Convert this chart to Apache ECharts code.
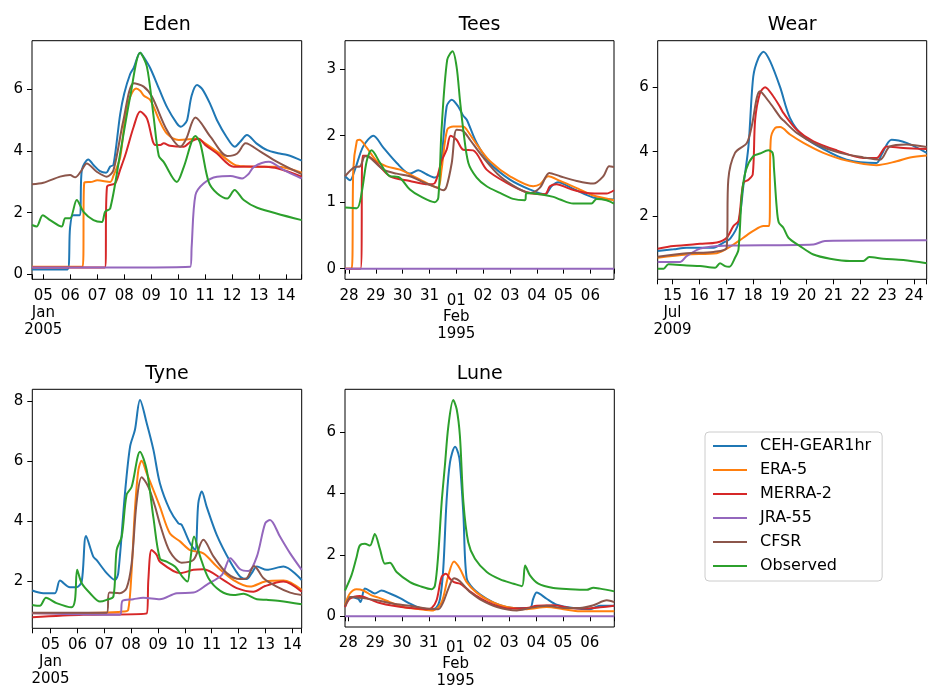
<!DOCTYPE html>
<html lang="en">
<head>
    <meta charset="UTF-8">
    <title>Reanalysis flood events</title>
    <style>
        body { margin: 0; background: #fff; }
        #chart { width: 928px; height: 690px; }
    </style>
</head>
<body>
    <div id="chart"></div>
    <script src="https://cdn.jsdelivr.net/npm/echarts@6.0.0/dist/echarts.min.js"></script>
    <script>
        const names = ['CEH-GEAR1hr', 'ERA-5', 'MERRA-2', 'JRA-55', 'CFSR', 'Observed']
        const colors = ['#1f77b4', '#ff7f0e', '#d62728', '#9467bd', '#8c564b', '#2ca02c']

        // tick days and labels (x = day of month, Feb counted on from Jan 31)
        const janTicks = [5, 6, 7, 8, 9, 10, 11, 12, 13, 14]
        const janLabels = ['05', '06', '07', '08', '09', '10', '11', '12', '13', '14']
        const janSub = [5, '\nJan\n2005']
        const febTicks = [28, 29, 30, 31, 32, 33, 34, 35, 36, 37]
        const febLabels = ['28', '29', '30', '31', '{m|01}\nFeb\n1995', '02', '03', '04', '05', '06']
        const julTicks = [15, 16, 17, 18, 19, 20, 21, 22, 23, 24]
        const julLabels = ['15', '16', '17', '18', '19', '20', '21', '22', '23', '24']
        const julSub = [15, '\nJul\n2009']

        // Eden, Jan 2005
        const edenCEH = [[4.58,0.16],[5.9,0.16],[5.99,1.5],[6.1,1.92],[6.34,1.92],[6.43,3.4],[6.67,3.73],[6.86,3.55],[7.1,3.35],[7.33,3.3],[7.48,3.5],[7.6,3.55],[7.85,5.2],[8.0,5.87],[8.22,6.5],[8.35,6.7],[8.59,7.19],[8.72,7.05],[8.97,6.68],[9.3,6.0],[9.6,5.4],[9.95,4.9],[10.1,4.79],[10.21,4.85],[10.33,5.0],[10.5,5.8],[10.7,6.14],[10.9,6.0],[11.2,5.5],[11.44,5.0],[11.8,4.45],[12.1,4.14],[12.3,4.3],[12.55,4.52],[12.9,4.25],[13.3,4.03],[13.7,3.93],[14.05,3.87],[14.58,3.69]]
        const edenERA5 = [[4.58,0.25],[6.46,0.25],[6.52,2.98],[6.8,3.0],[7.0,3.05],[7.48,3.0],[7.6,3.2],[7.85,3.8],[8.1,5.44],[8.44,6.03],[8.6,5.95],[8.72,5.8],[8.97,5.65],[9.3,5.0],[9.58,4.57],[10.02,4.36],[10.4,4.38],[10.7,4.41],[11.0,4.25],[11.44,3.98],[12.1,3.55],[12.5,3.5],[13.05,3.49],[13.67,3.49],[14.58,3.3]]
        const edenMERRA2 = [[4.58,0.22],[7.28,0.22],[7.36,2.84],[7.66,2.95],[7.85,3.4],[8.04,3.87],[8.35,4.79],[8.59,5.28],[8.84,5.06],[9.15,4.2],[9.34,4.2],[9.46,4.25],[9.7,4.17],[10.21,4.14],[10.45,4.3],[10.76,4.4],[11.0,4.2],[11.44,3.92],[12.06,3.49],[12.6,3.5],[13.2,3.49],[13.67,3.44],[14.58,3.17]]
        const edenJRA55 = [[4.58,0.22],[10.45,0.25],[10.5,0.9],[10.64,2.57],[10.94,2.95],[11.44,3.17],[11.94,3.19],[12.37,3.11],[12.6,3.25],[12.81,3.49],[13.36,3.65],[13.92,3.38],[14.58,3.11]]
        const edenCFSR = [[4.58,2.92],[5.0,2.97],[5.62,3.17],[5.99,3.22],[6.18,3.15],[6.4,3.35],[6.61,3.6],[6.98,3.33],[7.35,3.17],[7.6,3.38],[7.97,5.0],[8.35,6.2],[8.72,6.09],[9.03,5.76],[9.58,4.68],[10.08,4.14],[10.3,4.4],[10.64,5.09],[11.2,4.46],[11.82,3.84],[12.19,3.92],[12.5,4.25],[13.05,3.98],[13.67,3.65],[14.58,3.25]]
        const edenObs = [[4.58,1.6],[4.75,1.55],[4.98,1.92],[5.25,1.76],[5.68,1.55],[5.81,1.82],[5.99,1.82],[6.24,2.41],[6.49,2.03],[6.86,1.76],[7.17,1.7],[7.29,2.03],[7.48,2.14],[7.85,3.92],[8.22,5.76],[8.59,7.19],[8.84,6.74],[9.09,5.11],[9.28,3.85],[9.46,3.65],[9.95,3.0],[10.21,3.49],[10.64,4.49],[10.82,4.25],[11.13,3.0],[11.44,2.63],[11.82,2.46],[12.09,2.74],[12.43,2.41],[12.93,2.16],[14.58,1.76]]

        // Tees, Jan-Feb 1995
        const teesCEH = [[27.85,1.39],[28.04,1.33],[28.22,1.49],[28.53,1.84],[28.91,2.0],[29.28,1.82],[29.78,1.59],[30.27,1.43],[30.58,1.48],[30.89,1.42],[31.2,1.37],[31.39,1.44],[31.64,2.44],[31.83,2.54],[32.07,2.44],[32.26,2.3],[32.39,2.24],[32.76,1.89],[33.25,1.59],[34.0,1.34],[34.75,1.19],[35.31,1.12],[35.55,1.24],[35.8,1.3],[36.36,1.2],[37.11,1.07],[37.88,1.04]]
        const teesERA5 = [[27.85,0],[28.1,0],[28.16,1.5],[28.29,1.92],[28.39,1.94],[28.66,1.82],[29.03,1.62],[29.4,1.54],[29.9,1.49],[30.65,1.34],[31.14,1.24],[31.33,1.22],[31.45,1.49],[31.66,2.09],[31.89,2.14],[32.26,2.14],[32.39,2.09],[32.76,1.87],[33.25,1.62],[34.0,1.39],[34.87,1.24],[35.12,1.27],[35.43,1.39],[35.87,1.32],[36.61,1.19],[37.11,1.1],[37.88,1.03]]
        const teesMERRA2 = [[27.85,0],[28.43,0],[28.51,1.7],[28.66,1.7],[29.03,1.59],[29.53,1.39],[30.27,1.32],[30.96,1.27],[31.2,1.29],[31.45,1.62],[31.64,1.79],[31.79,2.0],[32.01,1.94],[32.26,1.79],[32.63,1.78],[33.13,1.49],[33.88,1.29],[34.62,1.15],[35.31,1.12],[35.49,1.24],[35.74,1.27],[36.24,1.2],[36.86,1.14],[37.6,1.13],[37.88,1.18]]
        const teesJRA55 = [[27.85,0],[37.88,0]]
        const teesCFSR = [[27.85,1.39],[28.22,1.53],[28.41,1.54],[28.6,1.69],[28.78,1.67],[29.28,1.49],[29.78,1.43],[30.27,1.39],[30.77,1.3],[31.27,1.22],[31.52,1.18],[31.64,1.24],[31.83,1.59],[32.01,2.09],[32.26,2.07],[32.51,1.94],[33.01,1.67],[33.63,1.39],[34.25,1.22],[34.75,1.14],[35.12,1.22],[35.47,1.44],[35.87,1.39],[36.49,1.32],[37.11,1.28],[37.48,1.39],[37.7,1.54],[37.88,1.53]]
        const teesObs = [[27.85,0.92],[28.29,0.91],[28.47,1.14],[28.66,1.62],[28.84,1.78],[29.16,1.59],[29.53,1.39],[29.84,1.38],[30.27,1.19],[30.65,1.09],[31.2,1.0],[31.33,1.07],[31.45,2.09],[31.66,3.14],[31.86,3.27],[32.01,3.04],[32.14,2.52],[32.26,2.09],[32.45,1.59],[32.76,1.37],[33.13,1.24],[33.63,1.14],[34.12,1.05],[34.56,1.03],[34.62,1.14],[35.12,1.12],[35.62,1.08],[35.87,1.04],[36.36,0.98],[37.04,0.98],[37.23,1.05],[37.6,1.03],[37.88,0.98]]

        // Wear, Jul 2009
        const wearCEH = [[14.45,0.92],[15.04,0.97],[15.53,1.02],[16.53,1.02],[16.9,1.18],[17.15,1.3],[17.46,1.79],[17.64,2.93],[17.83,4.16],[18.01,6.33],[18.2,6.9],[18.39,7.1],[18.64,6.8],[19.01,6.0],[19.38,5.04],[19.88,4.47],[20.62,4.08],[21.49,3.75],[22.6,3.65],[22.79,3.91],[23.16,4.37],[23.72,4.27],[24.47,3.96]]
        const wearERA5 = [[14.45,0.71],[15.53,0.81],[16.65,0.85],[17.15,1.05],[17.64,1.33],[18.01,1.54],[18.39,1.69],[18.6,1.69],[18.66,4.37],[18.82,4.73],[19.01,4.76],[19.38,4.53],[19.88,4.27],[20.62,3.96],[21.49,3.72],[22.6,3.58],[23.35,3.7],[23.85,3.82],[24.47,3.88]]
        const wearMERRA2 = [[14.45,0.99],[15.04,1.07],[16.03,1.14],[16.65,1.18],[17.02,1.33],[17.27,1.69],[17.46,1.85],[17.64,3.03],[17.83,3.13],[17.99,3.29],[18.08,4.99],[18.26,5.81],[18.45,6.0],[18.76,5.71],[19.01,5.38],[19.13,5.2],[19.63,4.68],[20.25,4.32],[21.12,4.04],[22.11,3.8],[22.6,3.8],[22.98,4.16],[23.6,4.11],[24.47,4.08]]
        const wearJRA55 = [[14.45,0.58],[15.29,0.58],[15.53,0.76],[16.03,0.99],[16.65,1.07],[17.27,1.09],[20.25,1.12],[20.68,1.23],[24.47,1.25]]
        const wearCFSR = [[14.45,0.74],[15.53,0.85],[16.53,0.89],[17.02,1.02],[17.08,3.13],[17.33,3.96],[17.77,4.27],[17.95,4.78],[18.26,5.87],[18.64,5.5],[19.01,5.07],[19.13,4.97],[19.63,4.58],[20.37,4.22],[21.24,3.96],[22.11,3.82],[22.73,3.75],[23.1,4.16],[23.72,4.22],[24.47,4.14]]
        const wearObs = [[14.45,0.37],[14.67,0.37],[14.85,0.51],[15.53,0.47],[16.03,0.45],[16.59,0.4],[16.77,0.54],[16.96,0.45],[17.12,0.43],[17.33,0.71],[17.46,0.97],[17.58,2.62],[17.74,3.44],[18.01,3.86],[18.26,3.94],[18.57,4.04],[18.73,3.96],[18.78,3.5],[18.88,2.3],[18.96,1.8],[19.13,1.64],[19.32,1.33],[19.75,1.07],[20.25,0.81],[20.87,0.68],[21.61,0.61],[22.11,0.61],[22.33,0.73],[22.85,0.68],[23.6,0.64],[24.47,0.54]]

        // Tyne, Jan 2005
        const tyneCEH = [[4.32,1.68],[4.73,1.59],[5.16,1.59],[5.35,2.01],[5.72,1.79],[5.97,1.79],[6.16,1.98],[6.32,3.5],[6.59,2.81],[6.71,2.7],[7.09,2.26],[7.4,2.03],[7.52,2.26],[7.77,4.92],[7.96,6.48],[8.14,7.03],[8.33,8.03],[8.58,7.26],[8.83,6.37],[9.07,5.26],[9.44,4.37],[9.76,3.92],[9.88,3.87],[10.19,3.26],[10.38,3.03],[10.5,4.59],[10.63,4.98],[10.81,4.48],[11.19,3.53],[11.69,2.64],[12.06,2.14],[12.3,2.06],[12.49,2.26],[12.68,2.48],[13.05,2.37],[13.67,2.48],[14.35,2.03]]
        const tyneERA5 = [[4.32,0.92],[6.84,0.94],[7.71,0.98],[7.89,1.03],[8.02,2.37],[8.14,4.37],[8.27,5.7],[8.39,6.01],[8.58,5.59],[8.83,5.03],[9.07,4.48],[9.44,3.59],[9.83,3.31],[10.19,3.03],[10.69,2.92],[11.19,2.48],[11.81,2.03],[12.43,1.81],[12.99,1.98],[13.67,2.01],[14.35,1.7]]
        const tyneMERRA2 = [[4.32,0.79],[6.22,0.87],[8.58,0.92],[8.64,2.03],[8.76,3.03],[8.95,2.87],[9.07,2.64],[9.83,2.26],[10.32,2.37],[10.69,2.39],[11.44,2.03],[11.93,1.76],[12.55,1.64],[12.99,1.83],[13.67,1.98],[14.35,1.64]]
        const tyneJRA55 = [[4.32,0.92],[7.58,0.87],[7.68,1.34],[8.08,1.39],[8.45,1.44],[9.07,1.39],[9.7,1.59],[10.32,1.61],[10.81,1.87],[11.38,2.2],[11.69,2.76],[12.06,2.39],[12.37,2.33],[12.68,2.81],[12.99,3.92],[13.17,4.03],[13.54,3.48],[13.92,2.92],[14.35,2.37]]
        const tyneCFSR = [[4.32,0.94],[7.09,0.94],[7.19,1.61],[7.58,1.59],[7.83,1.76],[8.02,2.59],[8.2,4.59],[8.39,5.46],[8.64,5.14],[8.89,4.48],[9.07,3.9],[9.44,2.98],[9.88,2.61],[10.32,2.7],[10.69,3.37],[11.07,2.81],[11.56,2.26],[12.06,2.06],[12.3,2.09],[12.58,2.5],[12.93,2.09],[13.42,1.81],[13.92,1.61],[14.35,1.53]]
        const tyneObs = [[4.32,1.2],[4.6,1.17],[4.83,1.44],[5.22,1.26],[5.78,1.12],[5.91,1.37],[5.99,2.37],[6.16,1.92],[6.47,1.59],[6.84,1.31],[7.09,1.37],[7.34,1.48],[7.46,3.03],[7.65,3.48],[7.83,4.87],[8.02,5.14],[8.33,6.31],[8.58,5.7],[8.83,4.1],[9.07,2.75],[9.32,2.64],[9.63,2.48],[9.95,2.09],[10.1,1.98],[10.22,2.81],[10.34,3.48],[10.57,2.81],[10.88,2.09],[11.32,1.67],[11.81,1.53],[12.18,1.57],[12.68,1.39],[13.05,1.37],[13.54,1.33],[14.35,1.22]]

        // Lune, Jan-Feb 1995
        const luneCEH = [[27.88,0.3],[28.06,0.63],[28.37,0.57],[28.46,0.46],[28.62,0.9],[28.87,0.79],[28.99,0.74],[29.24,0.84],[29.55,0.74],[29.93,0.59],[30.3,0.41],[30.67,0.27],[31.04,0.22],[31.27,0.27],[31.42,0.57],[31.54,1.55],[31.66,3.71],[31.79,5.01],[31.98,5.52],[32.1,5.3],[32.16,5.0],[32.29,3.3],[32.41,1.25],[32.66,0.9],[33.16,0.57],[33.66,0.36],[34.16,0.27],[34.77,0.27],[34.89,0.57],[35.02,0.77],[35.39,0.57],[35.76,0.38],[36.38,0.27],[37.0,0.23],[37.38,0.34],[37.91,0.34]]
        const luneERA5 = [[27.88,0.36],[28.06,0.74],[28.31,0.88],[28.56,0.84],[28.87,0.68],[29.18,0.59],[29.55,0.46],[30.05,0.3],[30.67,0.23],[31.17,0.19],[31.48,0.46],[31.73,1.33],[31.94,1.78],[32.16,1.55],[32.41,1.11],[32.78,0.77],[33.29,0.49],[33.91,0.3],[34.65,0.23],[35.39,0.3],[36.01,0.23],[36.63,0.16],[37.91,0.16]]
        const luneMERRA2 = [[27.88,0.3],[28.06,0.57],[28.43,0.66],[28.81,0.55],[29.18,0.43],[29.68,0.34],[30.3,0.27],[30.92,0.23],[31.11,0.27],[31.29,0.52],[31.48,1.28],[31.64,1.38],[31.79,1.22],[31.94,1.11],[32.16,1.06],[32.41,0.9],[32.53,0.81],[32.91,0.59],[33.41,0.38],[34.03,0.25],[34.65,0.27],[35.02,0.34],[35.64,0.36],[36.26,0.27],[36.88,0.25],[37.38,0.29],[37.91,0.34]]
        const luneJRA55 = [[27.88,0],[37.91,0]]
        const luneCFSR = [[27.88,0.34],[28.12,0.63],[28.56,0.59],[29.06,0.52],[29.68,0.41],[30.3,0.34],[30.92,0.25],[31.35,0.23],[31.54,0.46],[31.73,0.9],[31.94,1.24],[32.16,1.14],[32.41,0.9],[32.53,0.79],[32.91,0.55],[33.54,0.3],[34.28,0.19],[34.77,0.27],[35.39,0.34],[36.01,0.27],[36.63,0.27],[37.13,0.36],[37.63,0.52],[37.91,0.46]]
        const luneObs = [[27.88,0.84],[28.12,1.33],[28.31,1.92],[28.43,2.3],[28.62,2.36],[28.81,2.3],[28.99,2.68],[29.18,2.19],[29.37,1.71],[29.55,1.74],[29.8,1.44],[30.3,1.11],[30.67,0.98],[31.11,0.88],[31.23,1.0],[31.35,1.98],[31.48,3.71],[31.6,4.9],[31.73,6.19],[31.91,7.04],[32.04,6.74],[32.16,5.87],[32.29,3.71],[32.47,2.41],[32.72,1.87],[33.16,1.44],[33.66,1.2],[34.16,1.06],[34.47,0.98],[34.59,1.65],[34.77,1.33],[35.08,1.06],[35.64,0.92],[36.26,0.88],[36.88,0.86],[37.13,0.93],[37.38,0.9],[37.91,0.81]]

        const panels = [
            { title: 'Eden', box: [32, 40.7, 269.7, 238.6], x: [4.58, 14.58], y: [-0.16, 7.58], yTicks: [0, 2, 4, 6], ticks: janTicks, labels: janLabels, sub: janSub,
              series: [edenCEH, edenERA5, edenMERRA2, edenJRA55, edenCFSR, edenObs] },
            { title: 'Tees', box: [345, 40.7, 269, 238.6], x: [27.85, 37.88], y: [-0.16, 3.43], yTicks: [0, 1, 2, 3], ticks: febTicks, labels: febLabels, sub: null,
              series: [teesCEH, teesERA5, teesMERRA2, teesJRA55, teesCFSR, teesObs] },
            { title: 'Wear', box: [657.7, 40.7, 269, 238.6], x: [14.45, 24.47], y: [0.04, 7.44], yTicks: [2, 4, 6], ticks: julTicks, labels: julLabels, sub: julSub,
              series: [wearCEH, wearERA5, wearMERRA2, wearJRA55, wearCFSR, wearObs] },
            { title: 'Tyne', box: [32.3, 389.3, 269.4, 239], x: [4.32, 14.35], y: [0.42, 8.39], yTicks: [2, 4, 6, 8], ticks: janTicks, labels: janLabels, sub: janSub,
              series: [tyneCEH, tyneERA5, tyneMERRA2, tyneJRA55, tyneCFSR, tyneObs] },
            { title: 'Lune', box: [345, 389.3, 269.3, 239], x: [27.88, 37.91], y: [-0.35, 7.39], yTicks: [0, 2, 4, 6], ticks: febTicks, labels: febLabels, sub: null,
              series: [luneCEH, luneERA5, luneMERRA2, luneJRA55, luneCFSR, luneObs] }
        ]

        const font = 'DejaVu Sans'
        const chart = echarts.init(document.getElementById('chart'), null, { renderer: 'canvas' })

        const grid = panels.map(p => ({
            left: p.box[0], top: p.box[1], width: p.box[2], height: p.box[3],
            show: true, borderColor: '#000', borderWidth: 1, backgroundColor: 'transparent'
        }))

        const xAxis = panels.map((p, i) => ({
            type: 'value', gridIndex: i, position: 'bottom', min: p.x[0], max: p.x[1],
            splitLine: { show: false },
            axisLine: { show: false },
            axisTick: { show: true, length: 5, lineStyle: { color: '#000' }, customValues: [p.x[0]].concat(p.ticks, [p.x[1]]) },
            axisLabel: {
                customValues: p.ticks, margin: 8, color: '#000', fontFamily: font, fontSize: 15, lineHeight: 17,
                showMinLabel: true, showMaxLabel: true, hideOverlap: false,
                formatter: v => p.labels[p.ticks.indexOf(Math.round(v))],
                rich: { m: { fontFamily: font, fontSize: 15, lineHeight: 21, verticalAlign: 'bottom', color: '#000' } }
            }
        }))

        // month / year lines under the first tick, on a second axis so they are not hidden
        panels.forEach((p, i) => {
            if (!p.sub) return
            xAxis.push({
                type: 'value', gridIndex: i, position: 'bottom', offset: 0, min: p.x[0], max: p.x[1],
                splitLine: { show: false }, axisLine: { show: false }, axisTick: { show: false },
                axisLabel: {
                    customValues: [p.sub[0]], margin: 8, color: '#000', fontFamily: font, fontSize: 15, lineHeight: 17,
                    showMinLabel: true, showMaxLabel: true,
                    formatter: () => p.sub[1]
                }
            })
        })

        const yAxis = panels.map((p, i) => ({
            type: 'value', gridIndex: i, min: p.y[0], max: p.y[1],
            splitLine: { show: false },
            axisLine: { show: false },
            axisTick: { show: true, length: 5, lineStyle: { color: '#000' }, customValues: p.yTicks },
            axisLabel: { customValues: p.yTicks, margin: 9, color: '#000', fontFamily: font, fontSize: 15 }
        }))

        const title = panels.map(p => ({
            text: p.title, left: p.box[0] + p.box[2] / 2, top: p.box[1] - 25, textAlign: 'center',
            padding: 0,
            textStyle: { fontFamily: font, fontSize: 19, fontWeight: 'normal', color: '#000' }
        }))

        const series = []
        panels.forEach((p, i) => {
            p.series.forEach((data, k) => {
                series.push({
                    name: names[k], type: 'line', xAxisIndex: i, yAxisIndex: i,
                    data, showSymbol: false, symbol: 'none', clip: true, smooth: 0.3,
                    lineStyle: { width: 2, color: colors[k] },
                    itemStyle: { color: colors[k] }
                })
            })
        })

        chart.setOption({
            animation: false,
            title,
            legend: {
                data: names, orient: 'vertical', left: 705, top: 432,
                itemWidth: 34, itemHeight: 14, itemGap: 8,
                padding: [6, 11, 7, 7],
                borderColor: '#ccc', borderWidth: 1, borderRadius: 4,
                itemStyle: { color: 'rgba(0,0,0,0)', borderWidth: 0 },
                textStyle: { fontFamily: font, fontSize: 16, color: '#000', padding: [0, 0, 0, 8] }
            },
            grid, xAxis, yAxis, series
        })
    </script>
</body>
</html>
